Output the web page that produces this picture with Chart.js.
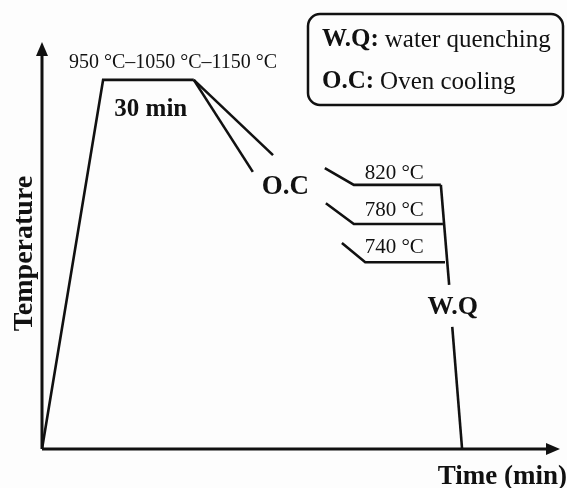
<!DOCTYPE html>
<html>
<head>
<meta charset="utf-8">
<script src="https://cdn.jsdelivr.net/npm/chart.js@4"></script>
<style>
  body { margin: 0; background: #fdfdfd; }
  #wrap { width: 567px; height: 488px; }
</style>
</head>
<body>
<div id="wrap"><canvas id="chart" width="567" height="488"></canvas></div>
<script>
// schematic units: time 0-100, temperature 0-100 (not to scale)
const heatTime = [0, 11.8, 29.3];
const heatTemp = [0, 90.7, 90.7];

const ocFastTime = [29.3, 40.7];
const ocFastTemp = [90.7, 68.1];
const ocSlowTime = [29.3, 44.6];
const ocSlowTemp = [90.7, 72.2];

const hold820Time = [54.6, 60.2, 77.0];
const hold820Temp = [69.0, 64.9, 64.9];
const hold780Time = [54.8, 60.2, 77.4];
const hold780Temp = [60.4, 55.3, 55.3];
const hold740Time = [57.9, 62.4, 77.8];
const hold740Temp = [50.6, 45.9, 45.9];

const wqTopTime = [77.0, 78.6];
const wqTopTemp = [64.9, 40.3];
const wqBottomTime = [79.2, 81.1];
const wqBottomTemp = [30.0, 0];

// annotation texts
const stepLabels = ['820 °C', '780 °C', '740 °C'];
const stepLabelTemp = [67.8, 58.5, 49.4];
const stepLabelTime = 68.0;

const legendKeys = ['W.Q:', 'O.C:'];
const legendTexts = ['water quenching', 'Oven cooling'];

function toPoints(xs, ys) {
    return xs.map((x, i) => ({ x: x, y: ys[i] }));
}

function seg(xs, ys) {
    return {
        data: toPoints(xs, ys),
        borderColor: '#111',
        borderWidth: 2.6,
        pointRadius: 0,
        showLine: true,
        tension: 0,
        fill: false
    };
}

const serif = '"Liberation Serif", "Times New Roman", serif';

const drawPlugin = {
    id: 'schematic',
    afterDatasetsDraw(chart) {
        const ctx = chart.ctx;
        const xs = chart.scales.x;
        const ys = chart.scales.y;
        const x0 = xs.getPixelForValue(0);
        const y0 = ys.getPixelForValue(0);
        const xEnd = xs.getPixelForValue(100);
        const yEnd = ys.getPixelForValue(100);

        ctx.save();
        ctx.strokeStyle = '#111';
        ctx.fillStyle = '#111';
        ctx.lineWidth = 3;
        // axes
        ctx.beginPath();
        ctx.moveTo(x0, y0);
        ctx.lineTo(xEnd - 10, y0);
        ctx.moveTo(x0, y0);
        ctx.lineTo(x0, yEnd + 10);
        ctx.stroke();
        // arrow heads
        ctx.beginPath();
        ctx.moveTo(xEnd, y0);
        ctx.lineTo(xEnd - 14, y0 - 6);
        ctx.lineTo(xEnd - 14, y0 + 6);
        ctx.closePath();
        ctx.fill();
        ctx.beginPath();
        ctx.moveTo(x0, yEnd);
        ctx.lineTo(x0 - 6, yEnd + 14);
        ctx.lineTo(x0 + 6, yEnd + 14);
        ctx.closePath();
        ctx.fill();

        const text = (str, t, temp, font) => {
            ctx.font = font;
            ctx.textAlign = 'center';
            ctx.textBaseline = 'middle';
            ctx.fillText(str, xs.getPixelForValue(t), ys.getPixelForValue(temp));
        };

        text('950 °C–1050 °C–1150 °C', 25.3, 94.8, '20px ' + serif);
        text('30 min', 21.0, 83.3, 'bold 25px ' + serif);
        text('O.C', 47.0, 64.4, 'bold 27px ' + serif);
        text('W.Q', 79.3, 34.9, 'bold 26px ' + serif);
        stepLabels.forEach((s, i) => text(s, stepLabelTime, stepLabelTemp[i], '21px ' + serif));

        // axis titles
        ctx.font = 'bold 27px ' + serif;
        ctx.textAlign = 'right';
        ctx.textBaseline = 'middle';
        ctx.fillText('Time (min)', xEnd + 7, y0 + 28);
        ctx.save();
        ctx.translate(x0 - 17, (y0 + yEnd) / 2 + 8);
        ctx.rotate(-Math.PI / 2);
        ctx.textAlign = 'center';
        ctx.font = 'bold 28px ' + serif;
        ctx.fillText('Temperature', 0, 0);
        ctx.restore();

        // legend box
        const bx = 308, by = 14, bw = 255, bh = 91;
        ctx.lineWidth = 2.5;
        ctx.beginPath();
        ctx.roundRect(bx, by, bw, bh, 12);
        ctx.fillStyle = '#fdfdfd';
        ctx.fill();
        ctx.stroke();
        ctx.fillStyle = '#111';
        ctx.textAlign = 'left';
        legendKeys.forEach((k, i) => {
            const ty = by + 26 + i * 42;
            ctx.font = 'bold 25px ' + serif;
            ctx.fillText(k, bx + 14, ty);
            const w = ctx.measureText(k).width + 6;
            ctx.font = '25px ' + serif;
            ctx.fillText(legendTexts[i], bx + 14 + w, ty);
        });
        ctx.restore();
    }
};

new Chart(document.getElementById('chart'), {
    type: 'scatter',
    data: {
        datasets: [
            seg(heatTime, heatTemp),
            seg(ocFastTime, ocFastTemp),
            seg(ocSlowTime, ocSlowTemp),
            seg(hold820Time, hold820Temp),
            seg(hold780Time, hold780Temp),
            seg(hold740Time, hold740Temp),
            seg(wqTopTime, wqTopTemp),
            seg(wqBottomTime, wqBottomTemp)
        ]
    },
    options: {
        responsive: false,
        animation: false,
        layout: { padding: { left: 42, right: 7, top: 42, bottom: 39 } },
        plugins: {
            legend: { display: false },
            tooltip: { enabled: false }
        },
        scales: {
            x: { type: 'linear', min: 0, max: 100, display: false },
            y: { type: 'linear', min: 0, max: 100, display: false }
        }
    },
    plugins: [drawPlugin]
});
</script>
</body>
</html>
